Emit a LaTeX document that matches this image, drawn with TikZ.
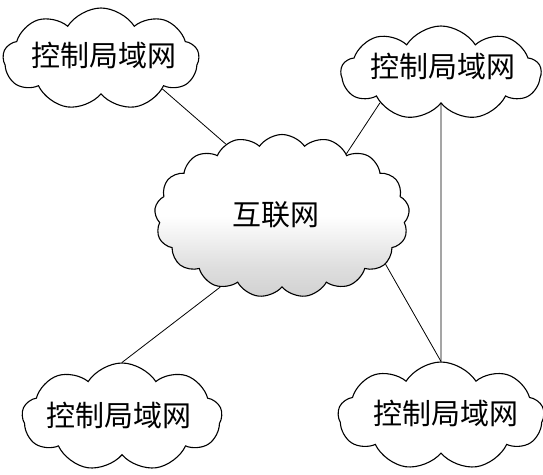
\documentclass[tikz,border=0pt]{standalone}
\usepackage{fontspec}
\newfontfamily\cjk{Noto Sans CJK SC}
\usetikzlibrary{shapes.symbols}
\pgfdeclareverticalshading{cloudshade}{100bp}{color(0bp)=(black!18); color(25bp)=(black!18); color(34bp)=(black!13); color(44bp)=(black!5); color(50bp)=(white); color(100bp)=(white)}
\begin{document}
\begin{tikzpicture}[x=1pt,y=-1pt,
  lan/.style={cloud, cloud puffs=9, cloud puff arc=115, cloud ignores aspect, draw=black, line width=1.1pt, fill=white, inner sep=0pt},
  inet/.style={cloud, cloud puffs=17, cloud puff arc=110, cloud ignores aspect, draw=black, line width=1.1pt, shading=cloudshade, inner sep=0pt},
  lbl/.style={font=\cjk\fontsize{29}{29}\selectfont, inner sep=0pt},
  link/.style={draw=black, line width=0.8pt}]
\useasboundingbox (0,0) rectangle (543,474);
\node[inet, minimum width=255pt, minimum height=163pt] (net) at (282,216) {};
\node[lbl] (netlabel) at (276,215) {互联网};
\node[lan, minimum width=196pt, minimum height=102pt] (tl) at (101,59) {};
\node[lbl] (tllabel) at (104,55) {控制局域网};
\node[lan, minimum width=200pt, minimum height=94pt] (tr) at (441,73) {};
\node[lbl] (trlabel) at (443,66) {控制局域网};
\node[lan, minimum width=200pt, minimum height=108pt] (bl) at (122,417) {};
\node[lbl] (bllabel) at (119,415) {控制局域网};
\node[lan, minimum width=206pt, minimum height=108pt] (br) at (441,416) {};
\node[lbl] (brlabel) at (446,413) {控制局域网};
\draw[link] (tl.-26) -- (net.128);
\draw[link] (tr.-154) -- (net.44);
\draw[link] (tr.south) -- (br.north);
\draw[link] (net.-25) -- (br.north);
\draw[link] (net.-131) -- (bl.north);
\end{tikzpicture}
\end{document}
